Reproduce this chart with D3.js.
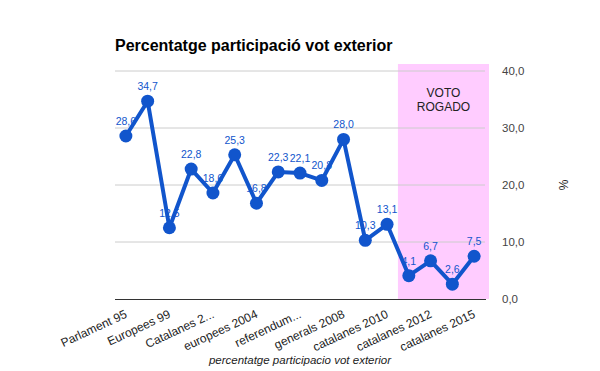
<!DOCTYPE html>
<html><head><meta charset="utf-8">
<script src="https://cdn.jsdelivr.net/npm/d3@7"></script>
<style>body{margin:0;background:#fff}svg{display:block;font-family:"Liberation Sans",Arial,sans-serif}</style>
</head><body>
<svg id="c" width="600" height="371"></svg>
<script>
const categories = ["Parlament 95","c2","Europees 99","c4","Catalanes 2...","c6","europees 2004","c8","referendum...","c10","generals 2008","c12","catalanes 2010","c14","catalanes 2012","c16","catalanes 2015"];
const values = [28.6,34.7,12.5,22.8,18.6,25.3,16.8,22.3,22.1,20.8,28.0,10.3,13.1,4.1,6.7,2.6,7.5];
const yTicks = [0,10,20,30,40];
const shadedFrom = 13; // first category in "VOTO ROGADO"
const title = "Percentatge participació vot exterior";
const xTitle = "percentatge participacio vot exterior";
const yTitle = "%";
const shadeLabel = ["VOTO","ROGADO"];

const svg = d3.select("#c");
const L=115, R=485, T=71, B=299;
const x = d3.scaleBand().domain(d3.range(values.length)).range([L,R]);
const y = d3.scaleLinear().domain([0,40]).range([B,T]);
const cx = i => x(i)+x.bandwidth()/2;
const fmt = v => d3.format(".1f")(v).replace(".",",");

// shaded region
svg.append("rect").attr("x",x(shadedFrom)).attr("y",y(40)-7)
  .attr("width",R+4-x(shadedFrom)).attr("height",B-(y(40)-7)).attr("fill","#ffccff");
svg.append("text").attr("text-anchor","middle").attr("font-size",12).attr("fill","#222")
  .selectAll("tspan").data(shadeLabel).join("tspan")
  .attr("x",(x(shadedFrom)+R+4)/2).attr("y",(d,i)=>97+i*14).text(d=>d);

// gridlines
svg.append("g").selectAll("line").data(yTicks.filter(t=>t>0)).join("line")
  .attr("x1",L).attr("x2",R).attr("y1",d=>y(d)).attr("y2",d=>y(d))
  .attr("stroke","#cccccc").attr("stroke-width",1);

// right axis
const ay = svg.append("g").attr("transform",`translate(${R+14},0)`)
  .call(d3.axisRight(y).tickValues(yTicks).tickFormat(fmt).tickSize(0));
ay.select(".domain").remove();
ay.selectAll("text").attr("font-size",11.5).attr("fill","#444").attr("font-family","Liberation Sans,Arial,sans-serif");

// baseline
svg.append("line").attr("x1",L).attr("x2",R+1).attr("y1",B+0.5).attr("y2",B+0.5).attr("stroke","#333");

// x axis labels
const ax = svg.append("g").attr("transform",`translate(0,${B})`)
  .call(d3.axisBottom(x).tickValues(d3.range(0,values.length,2)).tickFormat(i=>categories[i]).tickSize(0));
ax.select(".domain").remove();
ax.selectAll("text").attr("font-size",12).attr("fill","#222").attr("font-family","Liberation Sans,Arial,sans-serif")
  .attr("text-anchor","end").attr("dy",null).attr("y",null)
  .attr("transform","translate(2,18) rotate(-25)");

// line
svg.append("path").datum(values)
  .attr("d",d3.line().x((d,i)=>cx(i)).y(d=>y(d)))
  .attr("fill","none").attr("stroke","#1155cc").attr("stroke-width",4).attr("stroke-linejoin","round");
svg.append("g").selectAll("circle").data(values).join("circle")
  .attr("cx",(d,i)=>cx(i)).attr("cy",d=>y(d)).attr("r",6.5).attr("fill","#1155cc");
svg.append("g").selectAll("text").data(values).join("text")
  .attr("x",(d,i)=>cx(i)).attr("y",d=>y(d)-11).attr("text-anchor","middle")
  .attr("font-size",10.5).attr("fill","#1155cc").text(fmt);

// titles
svg.append("text").attr("x",L).attr("y",51).attr("font-size",16).attr("font-weight","bold").attr("fill","#000").text(title);
svg.append("text").attr("x",300).attr("y",364).attr("text-anchor","middle").attr("font-size",11.5).attr("font-style","italic").attr("fill","#222").text(xTitle);
svg.append("text").attr("transform","translate(568,185) rotate(-90)").attr("text-anchor","middle").attr("font-size",12).attr("fill","#222").text(yTitle);
</script>
</body></html>
